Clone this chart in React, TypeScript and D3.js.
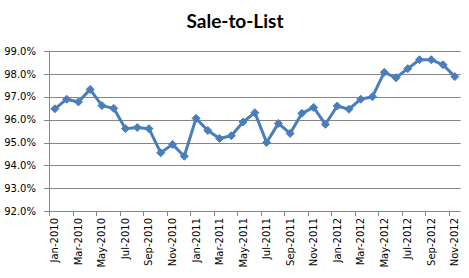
import React from "react";
import * as d3 from "d3";

const months = ["Jan","Feb","Mar","Apr","May","Jun","Jul","Aug","Sep","Oct","Nov","Dec"];
const years = [2010, 2011, 2012];
const categories: string[] = years.flatMap(y => months.map(m => `${m}-${y}`)).slice(0, 35);
const values = [
  96.48, 96.9, 96.78, 97.33, 96.62, 96.5, 95.61, 95.66, 95.61, 94.55, 94.92, 94.4,
  96.06, 95.53, 95.18, 95.3, 95.9, 96.31, 95.0, 95.84, 95.4, 96.28, 96.54, 95.8,
  96.6, 96.46, 96.9, 97.01, 98.08, 97.84, 98.24, 98.63, 98.63, 98.41, 97.89,
];
const yTicks = [92, 93, 94, 95, 96, 97, 98, 99];
const title = "Sale-to-List";

export default function App() {
  const W = 469, H = 278;
  const left = 49, right = 460.7, top = 51.3, bottom = 211;
  const x = d3.scaleBand<string>().domain(categories).range([left, right]);
  const y = d3.scaleLinear().domain([92, 99]).range([bottom, top]);
  const line = d3.line<number>()
    .x((_, i) => (x(categories[i]) as number) + x.bandwidth() / 2)
    .y(d => y(d));
  const color = "#4A7EBB";
  const grid = "#868686";
  const tickIdx = d3.range(0, categories.length + 1, 2);
  return (
    <svg width={W} height={H} style={{ position: "absolute", left: 0, top: 0 }}>
      <rect width={W} height={H} fill="#fff" />
      <text x={235} y={27.5} textAnchor="middle" fontFamily="Lato, 'Open Sans', sans-serif" fontWeight="bold" fontSize={19} fill="#000">{title}</text>
      {yTicks.map(t => (
        <g key={t}>
          {t > 92 && <line x1={left} x2={right} y1={Math.round(y(t)) + 0.5} y2={Math.round(y(t)) + 0.5} stroke={grid} strokeWidth={1} />}
          <line x1={left - 5} x2={left} y1={Math.round(y(t)) + 0.5} y2={Math.round(y(t)) + 0.5} stroke={grid} />
          <text x={36} y={y(t)} dy="0.35em" textAnchor="end" fontFamily="'DejaVu Sans', Verdana, sans-serif" fontSize={10} fill="#000">{t.toFixed(1)}%</text>
        </g>
      ))}
      <line x1={left + 0.5} x2={left + 0.5} y1={top} y2={bottom} stroke={grid} />
      <line x1={left} x2={right} y1={Math.round(bottom) + 0.5} y2={Math.round(bottom) + 0.5} stroke={grid} />
      {tickIdx.map(i => {
        const xx = Math.round(left + i * x.step()) + 0.5;
        return <line key={i} x1={xx} x2={xx} y1={bottom} y2={bottom + 5} stroke={grid} />;
      })}
      {categories.map((c, i) => i % 2 === 0 ? (
        <text key={c} transform={`translate(${(x(c) as number) + x.bandwidth() / 2},${bottom + 7}) rotate(-90)`} dy="0.35em" textAnchor="end" fontFamily="'DejaVu Sans', Verdana, sans-serif" fontSize={10} fill="#000">{c}</text>
      ) : null)}
      <path d={line(values) || ""} fill="none" stroke={color} strokeWidth={3} strokeLinejoin="round" />
      {values.map((v, i) => {
        const cx = (x(categories[i]) as number) + x.bandwidth() / 2;
        const cy = y(v);
        const s = 4;
        return <path key={i} d={`M${cx},${cy - s}L${cx + s},${cy}L${cx},${cy + s}L${cx - s},${cy}Z`} fill={color} stroke={color} strokeWidth={1} />;
      })}
    </svg>
  );
}
